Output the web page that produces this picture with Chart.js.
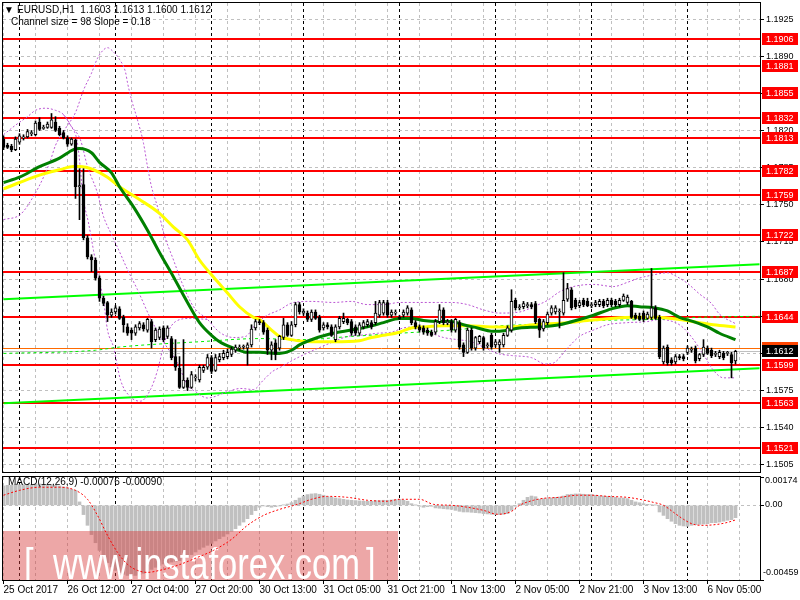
<!DOCTYPE html>
<html>
<head>
<meta charset="utf-8">
<script src="https://cdn.jsdelivr.net/npm/chart.js@4.4.0/dist/chart.umd.min.js"></script>
<style>
  html, body { margin: 0; padding: 0; background: #fff; }
  #wrap { position: relative; width: 800px; height: 600px; overflow: hidden; }
  canvas { position: absolute; left: 0; }
  #main { top: 0; }
  #macd { top: 474px; }
</style>
</head>
<body>
<div id="wrap">
  <canvas id="main" width="800" height="474"></canvas>
  <canvas id="macd" width="800" height="126"></canvas>
</div>
<script>
// ======== data (EURUSD H1, 25 Oct 20:00 .. 6 Nov 12:00) ========
const opens = [
  1.1812,1.1806,1.1805,1.1802,1.1809,1.1813,1.1814,1.1817,1.1816,1.1828,
  1.1822,1.1823,1.1823,1.1828,1.1822,1.1818,1.1813,1.1807,1.1811,1.1767,
  1.1769,1.1719,1.1701,1.1698,1.1681,1.1662,1.1658,1.1646,1.1649,1.1652,
  1.1644,1.1635,1.1632,1.1629,1.1634,1.1637,1.1632,1.1640,1.1623,1.1625,
  1.1634,1.1626,1.1624,1.1607,1.1596,1.1578,1.1585,1.1578,1.1587,1.1585,
  1.1594,1.1597,1.1606,1.1594,1.1604,1.1606,1.1607,1.1609,1.1613,1.1615,
  1.1616,1.1615,1.1618,1.1634,1.1640,1.1639,1.1632,1.1613,1.1620,1.1615,
  1.1625,1.1637,1.1627,1.1637,1.1656,1.1648,1.1648,1.1642,1.1649,1.1644,
  1.1634,1.1637,1.1635,1.1623,1.1635,1.1640,1.1642,1.1640,1.1635,1.1629,
  1.1635,1.1637,1.1639,1.1639,1.1646,1.1648,1.1658,1.1646,1.1648,1.1644,
  1.1646,1.1648,1.1651,1.1639,1.1635,1.1634,1.1632,1.1630,1.1630,1.1640,
  1.1651,1.1639,1.1640,1.1632,1.1639,1.1618,1.1611,1.1632,1.1615,1.1621,
  1.1625,1.1617,1.1627,1.1618,1.1618,1.1618,1.1627,1.1632,1.1660,1.1653,
  1.1654,1.1655,1.1656,1.1657,1.1642,1.1633,1.1639,1.1648,1.1649,1.1649,
  1.1648,1.1661,1.1670,1.1660,1.1655,1.1660,1.1659,1.1655,1.1656,1.1656,
  1.1659,1.1656,1.1660,1.1659,1.1656,1.1660,1.1658,1.1659,1.1646,1.1645,
  1.1648,1.1643,1.1644,1.1653,1.1644,1.1602,1.1616,1.1604,1.1602,1.1607,
  1.1607,1.1611,1.1613,1.1615,1.1605,1.1609,1.1615,1.1613,1.1609,1.1607,
  1.1610,1.1610,1.1609,1.1603
];
const highs = [
  1.1815,1.1808,1.1807,1.1814,1.1817,1.1816,1.1821,1.1820,1.1829,1.1832,
  1.1825,1.1828,1.1836,1.1833,1.1824,1.1820,1.1815,1.1813,1.1812,1.1784,
  1.1784,1.1721,1.1703,1.1700,1.1683,1.1664,1.1659,1.1652,1.1655,1.1654,
  1.1646,1.1638,1.1634,1.1637,1.1640,1.1639,1.1643,1.1642,1.1634,1.1635,
  1.1636,1.1636,1.1626,1.1623,1.1607,1.1623,1.1587,1.1593,1.1590,1.1599,
  1.1599,1.1609,1.1608,1.1609,1.1610,1.1613,1.1614,1.1616,1.1618,1.1618,
  1.1618,1.1620,1.1637,1.1642,1.1642,1.1641,1.1634,1.1621,1.1623,1.1627,
  1.1643,1.1639,1.1640,1.1658,1.1658,1.1652,1.1650,1.1651,1.1651,1.1646,
  1.1639,1.1639,1.1637,1.1637,1.1645,1.1648,1.1643,1.1642,1.1637,1.1639,
  1.1641,1.1642,1.1641,1.1659,1.1660,1.1660,1.1660,1.1651,1.1651,1.1646,
  1.1651,1.1655,1.1653,1.1641,1.1637,1.1636,1.1634,1.1632,1.1642,1.1656,
  1.1653,1.1642,1.1642,1.1643,1.1641,1.1620,1.1634,1.1634,1.1626,1.1627,
  1.1626,1.1620,1.1629,1.1623,1.1623,1.1629,1.1636,1.1670,1.1662,1.1656,
  1.1659,1.1658,1.1658,1.1659,1.1643,1.1642,1.1649,1.1655,1.1655,1.1652,
  1.1686,1.1676,1.1672,1.1662,1.1660,1.1662,1.1662,1.1658,1.1660,1.1661,
  1.1661,1.1662,1.1662,1.1661,1.1662,1.1666,1.1665,1.1660,1.1648,1.1648,
  1.1650,1.1649,1.1690,1.1655,1.1646,1.1617,1.1618,1.1606,1.1609,1.1609,
  1.1609,1.1617,1.1616,1.1617,1.1610,1.1623,1.1617,1.1615,1.1612,1.1613,
  1.1612,1.1612,1.1611,1.1613
];
const lows = [
  1.1802,1.1803,1.1800,1.1801,1.1807,1.1811,1.1813,1.1815,1.1815,1.1820,
  1.1821,1.1822,1.1822,1.1819,1.1815,1.1812,1.1805,1.1806,1.1756,1.1736,
  1.1717,1.1699,1.1687,1.1679,1.1659,1.1655,1.1640,1.1644,1.1647,1.1642,
  1.1630,1.1627,1.1623,1.1627,1.1632,1.1631,1.1630,1.1615,1.1621,1.1623,
  1.1621,1.1624,1.1604,1.1594,1.1577,1.1577,1.1575,1.1577,1.1584,1.1583,
  1.1592,1.1595,1.1591,1.1593,1.1602,1.1604,1.1605,1.1607,1.1611,1.1613,
  1.1614,1.1599,1.1616,1.1632,1.1637,1.1628,1.1609,1.1604,1.1604,1.1613,
  1.1623,1.1626,1.1626,1.1635,1.1647,1.1646,1.1640,1.1640,1.1642,1.1630,
  1.1632,1.1633,1.1626,1.1621,1.1633,1.1638,1.1637,1.1627,1.1627,1.1627,
  1.1633,1.1635,1.1633,1.1637,1.1644,1.1646,1.1644,1.1644,1.1646,1.1642,
  1.1644,1.1646,1.1637,1.1633,1.1630,1.1628,1.1627,1.1626,1.1628,1.1638,
  1.1637,1.1637,1.1630,1.1630,1.1614,1.1607,1.1610,1.1613,1.1613,1.1619,
  1.1613,1.1615,1.1614,1.1616,1.1611,1.1616,1.1626,1.1630,1.1651,1.1651,
  1.1652,1.1653,1.1652,1.1638,1.1625,1.1631,1.1637,1.1646,1.1647,1.1634,
  1.1646,1.1659,1.1651,1.1652,1.1653,1.1654,1.1654,1.1653,1.1654,1.1654,
  1.1653,1.1654,1.1654,1.1654,1.1654,1.1659,1.1656,1.1643,1.1642,1.1641,
  1.1640,1.1642,1.1642,1.1642,1.1605,1.1600,1.1599,1.1599,1.1600,1.1604,
  1.1603,1.1609,1.1611,1.1601,1.1603,1.1607,1.1609,1.1606,1.1607,1.1605,
  1.1604,1.1608,1.1587,1.1600
];
const closes = [
  1.1804,1.1804,1.1802,1.1812,1.1815,1.1814,1.1819,1.1818,1.1827,1.1821,
  1.1823,1.1826,1.1830,1.1820,1.1816,1.1813,1.1807,1.1812,1.1767,1.1768,
  1.1719,1.1701,1.1698,1.1681,1.1662,1.1657,1.1646,1.1649,1.1653,1.1643,
  1.1637,1.1629,1.1629,1.1635,1.1638,1.1633,1.1642,1.1621,1.1632,1.1633,
  1.1623,1.1634,1.1606,1.1597,1.1578,1.1585,1.1578,1.1590,1.1588,1.1597,
  1.1597,1.1606,1.1593,1.1606,1.1607,1.1610,1.1611,1.1614,1.1616,1.1616,
  1.1617,1.1618,1.1633,1.1640,1.1639,1.1630,1.1613,1.1618,1.1609,1.1626,
  1.1637,1.1627,1.1637,1.1656,1.1649,1.1650,1.1642,1.1649,1.1643,1.1632,
  1.1637,1.1635,1.1627,1.1635,1.1643,1.1643,1.1639,1.1629,1.1629,1.1637,
  1.1639,1.1640,1.1635,1.1648,1.1658,1.1658,1.1646,1.1649,1.1649,1.1643,
  1.1649,1.1653,1.1639,1.1635,1.1632,1.1630,1.1629,1.1627,1.1640,1.1651,
  1.1639,1.1640,1.1632,1.1642,1.1616,1.1611,1.1632,1.1615,1.1625,1.1626,
  1.1615,1.1618,1.1616,1.1621,1.1621,1.1627,1.1634,1.1659,1.1653,1.1654,
  1.1657,1.1656,1.1654,1.1640,1.1632,1.1640,1.1647,1.1653,1.1653,1.1650,
  1.1660,1.1671,1.1653,1.1654,1.1658,1.1656,1.1655,1.1656,1.1658,1.1659,
  1.1655,1.1660,1.1656,1.1656,1.1660,1.1664,1.1663,1.1644,1.1643,1.1642,
  1.1642,1.1647,1.1653,1.1643,1.1607,1.1615,1.1601,1.1601,1.1607,1.1606,
  1.1605,1.1615,1.1614,1.1603,1.1609,1.1616,1.1610,1.1608,1.1610,1.1611,
  1.1606,1.1611,1.1601,1.1612
];

// moving averages / bands, sampled as [bar index, price]
const maGreen = [[0,1.1771],[4,1.1776],[9,1.1786],[14,1.1794],[17.5,1.1802],[19,1.1803],[22,1.1799],[24,1.1790],[27,1.1780],[29,1.1767],[32.5,1.1748],[36,1.1726],[39,1.1705],[42.5,1.1682],[46,1.1658],[49,1.1639],[52,1.1627],[54,1.1621],[57.5,1.1615],[61,1.1611],[64,1.1611],[69,1.1610],[72,1.1613],[74,1.1618],[78.5,1.1625],[82.5,1.1629],[87,1.1632],[91,1.1635],[95,1.1639],[99,1.1643],[102,1.1643],[105,1.1641],[108.5,1.1640],[112,1.1640],[115,1.1637],[118.5,1.1634],[122,1.1631],[124,1.1631],[129,1.1634],[134,1.1635],[139,1.1637],[144,1.1642],[147.5,1.1646],[152,1.1652],[156,1.1655],[159,1.1654],[162.5,1.1653],[166,1.1650],[169,1.1644],[172.5,1.1640],[176,1.1635],[179,1.1629],[183,1.1623]];
const maYellow = [[0,1.1765],[4,1.1771],[9,1.1778],[14,1.1783],[17.5,1.1786],[19,1.1786],[22.5,1.1783],[26,1.1776],[29,1.1767],[34,1.1755],[39,1.1742],[42.5,1.1729],[46,1.1717],[49,1.1698],[52.5,1.1682],[56,1.1667],[59,1.1654],[62.5,1.1644],[64,1.1642],[67,1.1632],[69,1.1626],[72,1.1623],[77,1.1621],[82.5,1.1621],[89,1.1622],[92,1.1625],[95,1.1627],[99,1.1630],[102,1.1634],[105,1.1635],[110,1.1636],[116,1.1636],[122,1.1635],[127,1.1635],[132.5,1.1637],[141,1.1639],[146,1.1641],[152,1.1643],[157.5,1.1644],[163.5,1.1644],[169,1.1642],[174,1.1639],[177.5,1.1637],[183,1.1635]];
const maLime = [[0,1.1610],[23,1.1613],[29,1.1616],[49,1.1621],[64,1.1624],[74,1.1623],[87,1.1626],[99,1.1629],[112,1.1632],[124,1.1636],[137,1.1638],[149,1.1641],[162,1.1642],[174,1.1644],[189,1.1645]];
const bandUpper = [[0,1.1736],[4.25,1.1741],[7.5,1.1758],[10,1.1776],[11.75,1.1792],[13,1.1806],[15.5,1.1822],[18,1.1837],[20,1.1858],[22,1.1874],[23.5,1.1888],[25,1.1896],[26,1.1898],[27.5,1.1894],[29,1.1887],[30.5,1.1875],[31,1.1865],[32,1.1849],[33.5,1.1830],[35,1.1808],[36,1.1786],[37,1.1767],[38.5,1.1748],[40,1.1724],[42.5,1.1698],[45,1.1673],[47.5,1.1654],[51,1.1642],[54,1.1630],[57.5,1.1625],[60.5,1.1626],[63,1.1637],[65.5,1.1645],[69,1.1651],[72.5,1.1658],[77,1.1659],[82.5,1.1658],[87,1.1659],[91,1.1656],[95,1.1656],[99,1.1658],[108.5,1.1658],[112,1.1658],[116,1.1656],[120,1.1651],[124,1.1648],[129,1.1649],[132.5,1.1654],[136,1.1660],[139,1.1668],[142.5,1.1673],[147.5,1.1675],[152.5,1.1673],[156,1.1677],[159,1.1681],[162.5,1.1684],[166,1.1686],[168.5,1.1682],[171,1.1676],[174,1.1666],[177,1.1657],[179,1.1647],[183,1.1638]];
const bandLower = [[0,1.1816],[3,1.1825],[6,1.1833],[8,1.1839],[10.5,1.1841],[13,1.1839],[15,1.1835],[16.75,1.1825],[19.25,1.1811],[21,1.1786],[23.5,1.1761],[25,1.1739],[26.75,1.1724],[28.5,1.1710],[31,1.1689],[33.5,1.1670],[36.75,1.1643],[40.5,1.1618],[43.5,1.1601],[46,1.1580],[48,1.1574],[51,1.1568],[56,1.1574],[59.25,1.1577],[62.5,1.1576],[65,1.1585],[67.25,1.1593],[69.25,1.1597],[72.5,1.1604],[77.5,1.1613],[82.5,1.1621],[86,1.1626],[89,1.1627],[93.5,1.1629],[97,1.1630],[100,1.1634],[103.5,1.1635],[107,1.1629],[110,1.1625],[113.5,1.1623],[117,1.1621],[120,1.1616],[123.5,1.1610],[127,1.1608],[132,1.1606],[135.5,1.1600],[137.5,1.1601],[141,1.1615],[144,1.1626],[147.5,1.1632],[151,1.1637],[156,1.1639],[161,1.1640],[164,1.1642],[168,1.1639],[170,1.1634],[172.5,1.1623],[175,1.1609],[177.5,1.1594],[180,1.1587],[183,1.1587]];
const bandInner = [[15,1.1835],[16.75,1.1825],[18.5,1.1808],[20,1.1755],[21.25,1.1733],[22.5,1.1707],[23.5,1.1686],[25,1.1660],[26,1.1632],[27.5,1.1616],[29.25,1.1585],[31.75,1.1569],[34.25,1.1565],[36.75,1.1576],[38.5,1.1594],[39.75,1.1613],[41,1.1629],[43,1.1640],[46.75,1.1643],[51,1.1642]];
const channelUpper = [[0,1.1661],[189,1.1694]];
const channelLower = [[0,1.1563],[189,1.1596]];

// horizontal levels and quotes
const levels = [1.1906,1.1881,1.1855,1.1832,1.1813,1.1782,1.1759,1.1722,1.1687,1.1644,1.1599,1.1563,1.1521];
const askPrice = 1.1615;
const bidPrice = 1.1612;

// MACD(12,26,9)
const macdHist = [
  0.00119,0.00123,0.00123,0.00127,0.00127,0.00127,0.00129,0.00129,0.00131,0.00131,
  0.00129,0.00127,0.00127,0.00123,0.00119,0.00113,0.00107,0.00098,0.00092,0.00021,
  -0.00057,-0.00123,-0.00180,-0.00230,-0.00277,-0.00318,-0.00353,-0.00379,-0.00400,-0.00414,
  -0.00424,-0.00431,-0.00433,-0.00431,-0.00426,-0.00418,-0.00406,-0.00394,-0.00381,-0.00369,
  -0.00361,-0.00353,-0.00349,-0.00344,-0.00340,-0.00332,-0.00318,-0.00303,-0.00287,-0.00271,
  -0.00258,-0.00246,-0.00234,-0.00219,-0.00205,-0.00191,-0.00176,-0.00160,-0.00144,-0.00123,
  -0.00103,-0.00082,-0.00057,-0.00033,-0.00012,-0.00004,-0.00008,-0.00012,-0.00008,-0.00004,
  0.00002,0.00008,0.00016,0.00031,0.00045,0.00057,0.00066,0.00070,0.00072,0.00068,
  0.00062,0.00053,0.00049,0.00045,0.00041,0.00037,0.00033,0.00031,0.00029,0.00027,
  0.00025,0.00025,0.00025,0.00029,0.00029,0.00031,0.00031,0.00033,0.00035,0.00037,
  0.00031,0.00025,0.00010,0.00001,-0.00006,-0.00012,-0.00008,-0.00006,-0.00016,-0.00018,
  -0.00021,-0.00023,-0.00025,-0.00031,-0.00037,-0.00041,-0.00041,-0.00043,-0.00045,-0.00047,
  -0.00051,-0.00053,-0.00055,-0.00057,-0.00057,-0.00055,-0.00051,-0.00031,-0.00006,0.00010,
  0.00031,0.00049,0.00057,0.00053,0.00037,0.00041,0.00041,0.00045,0.00049,0.00051,
  0.00057,0.00066,0.00068,0.00070,0.00070,0.00068,0.00066,0.00066,0.00062,0.00057,
  0.00057,0.00055,0.00053,0.00049,0.00045,0.00045,0.00041,0.00031,0.00021,0.00016,
  0.00010,0.00006,0.00004,0.00001,-0.00041,-0.00062,-0.00082,-0.00098,-0.00113,-0.00123,
  -0.00127,-0.00129,-0.00123,-0.00119,-0.00117,-0.00115,-0.00113,-0.00107,-0.00107,-0.00103,
  -0.00098,-0.00092,-0.00088,-0.00076
];
const macdSignal = [[0,0.00062],[4,0.00092],[9,0.00111],[14,0.00111],[18,0.00092],[21,0.00037],[23.5,-0.00062],[26,-0.00185],[28.5,-0.00289],[31,-0.00363],[33.5,-0.00400],[36,-0.00412],[39,-0.00400],[43.5,-0.00369],[48.5,-0.00320],[52.5,-0.00277],[57,-0.00209],[61,-0.00123],[65,-0.00062],[69,-0.00025],[73.5,0.00006],[77,0.00037],[81,0.00055],[86,0.00049],[91,0.00031],[96,0.00025],[99,0.00037],[104,0.00037],[107.5,0.00006],[112,0.00000],[116,-0.00012],[120,-0.00031],[123.5,-0.00055],[127,-0.00037],[129,0.00000],[132.5,0.00031],[135,0.00043],[139,0.00049],[143.5,0.00062],[147,0.00062],[151,0.00055],[156,0.00049],[159,0.00037],[162.5,0.00018],[165,0.00000],[167.5,-0.00043],[170,-0.00086],[172.5,-0.00117],[175,-0.00123],[178.5,-0.00117],[181,-0.00105],[183,-0.00090]];

// axes
const priceTicks = [1.1925,1.1890,1.1855,1.1820,1.1785,1.1750,1.1715,1.1680,1.1645,1.1610,1.1575,1.1540,1.1505];
const macdTicks = [0.00174, 0, -0.00459];
const timeLabels = ["25 Oct 2017","26 Oct 12:00","27 Oct 04:00","27 Oct 20:00","30 Oct 13:00","31 Oct 05:00","31 Oct 21:00","1 Nov 13:00","2 Nov 05:00","2 Nov 21:00","3 Nov 13:00","6 Nov 05:00"];
const timeLabelIdx = [0,16,32,48,64,80,96,112,128,144,160,176];
const gridIdx = [0,8,16,24,32,40,48,56,64,72,80,88,96,104,112,120,128,136,144,152,160,168,176,184];
const daySeparators = [4,28,52,75,99,123,147,171];

// ======== common setup ========
const FONT = '"Liberation Sans", "DejaVu Sans", sans-serif';
Chart.defaults.font.family = FONT;
Chart.defaults.font.size = 10;
Chart.defaults.color = "#000";

const X_MIN = -0.125, X_MAX = 189.125;   // 4 px per bar
const Y_MIN = 1.14983, Y_MAX = 1.19401;
const idx = opens.map((_, i) => i);
const last = opens.length - 1;
const toXY = pts => pts.map(p => ({ x: p[0], y: p[1] }));
const xTicks = gridIdx.concat(daySeparators).sort((a, b) => a - b);
const xGridColor = c => (c.tick && daySeparators.includes(c.tick.value)) ? "#000" : "#C0C0C0";

function lineSet(points, color, width, dash, order) {
  return {
    type: "line", data: toXY(points), borderColor: color, borderWidth: width,
    borderDash: dash || [], pointRadius: 0, cubicInterpolationMode: "monotone",
    fill: false, order: order,
  };
}

// ======== main price pane ========
const levelLines = {
  id: "levelLines",
  beforeDatasetsDraw(chart) {
    const { ctx, chartArea: a, scales: { y } } = chart;
    ctx.save();
    ctx.beginPath(); ctx.rect(a.left, a.top, a.right - a.left, a.bottom - a.top); ctx.clip();
    const hline = (v, color, w) => {
      const py = Math.round(y.getPixelForValue(v)) + (w % 2 ? 0.5 : 0);
      ctx.strokeStyle = color; ctx.lineWidth = w;
      ctx.beginPath(); ctx.moveTo(a.left, py); ctx.lineTo(a.right, py); ctx.stroke();
    };
    hline(bidPrice, "#C0C0C0", 1);
    hline(askPrice, "#FF6A00", 1);
    levels.forEach(v => hline(v, "#FF0000", 2));
    ctx.restore();
  },
};

const mainOverlay = {
  id: "mainOverlay",
  afterDraw(chart) {
    const { ctx, chartArea: a, scales: { y } } = chart;
    ctx.save();
    ctx.strokeStyle = "#000"; ctx.lineWidth = 1;
    ctx.strokeRect(a.left - 0.5, a.top - 0.5, a.right - a.left + 1, a.bottom - a.top + 1);
    ctx.font = "9px " + FONT;
    ctx.textBaseline = "middle";
    const tag = (v, bg) => {
      const py = Math.round(y.getPixelForValue(v));
      ctx.fillStyle = bg; ctx.fillRect(a.right + 2, py - 6, 36, 12);
      ctx.fillStyle = "#fff"; ctx.fillText(v.toFixed(4), a.right + 6, py + 0.5);
    };
    levels.forEach(v => tag(v, "#FF0000"));
    tag(askPrice, "#FF4500");
    tag(bidPrice, "#000");
    // header
    ctx.fillStyle = "#000";
    ctx.font = "10px " + FONT;
    ctx.fillText("\u25BC", a.left + 1, 10);
    const q = [opens[last], highs[last], lows[last], closes[last]].map(v => v.toFixed(4)).join(" ");
    ctx.fillText("EURUSD,H1  " + q, a.left + 14, 10);
    ctx.fillText("Channel size = 98 Slope = 0.18", a.left + 8, 22);
    ctx.restore();
  },
};

new Chart(document.getElementById("main"), {
  type: "bar",
  data: {
    datasets: [
      {
        type: "bar", data: idx.map(i => ({ x: i, y: [opens[i], closes[i]] })),
        backgroundColor: idx.map(i => closes[i] >= opens[i] ? "#FFFFFF" : "#000000"),
        borderColor: "#000", borderWidth: 1, borderSkipped: false,
        barThickness: 3, maxBarThickness: 3, minBarLength: 1, grouped: false, order: 0,
      },
      {
        type: "bar", data: idx.map(i => ({ x: i, y: [lows[i], highs[i]] })),
        backgroundColor: "#000", borderWidth: 0,
        barThickness: 1, maxBarThickness: 1, grouped: false, order: 1,
      },
      lineSet(maGreen, "#008000", 3, null, 2),
      lineSet(maYellow, "#FFFF00", 3, null, 3),
      lineSet(maLime, "#00EE00", 1, [3, 3], 4),
      lineSet(bandUpper, "#BA55D3", 1, [2, 2], 5),
      lineSet(bandLower, "#BA55D3", 1, [2, 2], 6),
      lineSet(bandInner, "#BA55D3", 1, [2, 2], 7),
      lineSet(channelUpper, "#00FF00", 2, null, 8),
      lineSet(channelLower, "#00FF00", 2, null, 9),
    ],
  },
  options: {
    responsive: false, animation: false, events: [],
    layout: { padding: { left: 3, top: 3, right: 0, bottom: 2 } },
    plugins: { legend: { display: false }, tooltip: { enabled: false } },
    scales: {
      x: {
        type: "linear", min: X_MIN, max: X_MAX, offset: false,
        afterBuildTicks: s => { s.ticks = xTicks.map(v => ({ value: v })); },
        grid: { color: xGridColor, drawTicks: false, offset: false },
        border: { display: false, dash: [3, 3] },
        ticks: { display: false },
        afterFit: s => { s.height = 0; s.paddingLeft = 0; s.paddingRight = 0; },
      },
      y: {
        position: "right", min: Y_MIN, max: Y_MAX,
        afterBuildTicks: s => { s.ticks = priceTicks.map(v => ({ value: v })); },
        grid: { color: "#C0C0C0", tickColor: "#000", tickLength: 4, drawTicks: true },
        border: { display: false, dash: [3, 3] },
        ticks: { padding: 2, color: "#000", font: { size: 9 }, callback: v => Number(v).toFixed(4) },
        afterFit: s => { s.width = 40; s.paddingTop = 0; s.paddingBottom = 0; },
      },
    },
  },
  plugins: [levelLines, mainOverlay],
});

// ======== MACD pane ========
const watermark = {
  id: "watermark",
  afterDatasetDraw(chart, args) {
    if (args.index !== 0) return;
    const { ctx, chartArea: a } = chart;
    ctx.save();
    ctx.beginPath(); ctx.rect(a.left, a.top, a.right - a.left, a.bottom - a.top); ctx.clip();
    ctx.fillStyle = "rgba(215,60,60,0.45)";
    ctx.fillRect(a.left, a.bottom - 49, 395, 49);
    ctx.fillStyle = "#fff";
    ctx.font = "44px " + FONT;
    ctx.textBaseline = "alphabetic";
    const txt = "www.instaforex.com";
    const sx = 307 / ctx.measureText(txt).width;
    const put = (t, x) => {
      ctx.save(); ctx.translate(x, a.bottom - 1); ctx.scale(sx, 1);
      ctx.fillText(t, 0, 0); ctx.restore();
    };
    put("[", a.left + 21);
    put(txt, a.left + 50);
    put("]", a.left + 363);
    ctx.restore();
  },
};

const macdOverlay = {
  id: "macdOverlay",
  afterDraw(chart) {
    const { ctx, chartArea: a, scales: { y } } = chart;
    ctx.save();
    ctx.strokeStyle = "#000"; ctx.lineWidth = 1;
    ctx.strokeRect(a.left - 0.5, a.top - 0.5, a.right - a.left + 1, a.bottom - a.top + 1);
    ctx.font = "9px " + FONT;
    ctx.textBaseline = "middle";
    ctx.fillStyle = "#000";
    macdTicks.forEach(v => {
      const py = y.getPixelForValue(v);
      const shift = v === y.max ? 4 : (v === y.min ? -7 : -1);
      ctx.fillText(v === 0 ? "0.00" : v.toFixed(5), a.right + (v < 0 ? 3 : 5), py + shift);
    });
    ctx.font = "10px " + FONT;
    const sig = macdSignal[macdSignal.length - 1][1];
    ctx.fillText("MACD(12,26,9) " + macdHist[last].toFixed(5) + " " + sig.toFixed(5), a.left + 5, 8);
    ctx.restore();
  },
};

new Chart(document.getElementById("macd"), {
  type: "bar",
  data: {
    datasets: [
      {
        type: "bar", data: idx.map(i => ({ x: i, y: macdHist[i] })),
        backgroundColor: "#C0C0C0", borderWidth: 0,
        barThickness: 3, maxBarThickness: 3, grouped: false, order: 1,
      },
      lineSet(macdSignal, "#FF0000", 1, [2, 2], 0),
    ],
  },
  options: {
    responsive: false, animation: false, events: [],
    layout: { padding: { left: 3, top: 3, right: 0, bottom: 0 } },
    plugins: { legend: { display: false }, tooltip: { enabled: false } },
    scales: {
      x: {
        type: "linear", min: X_MIN, max: X_MAX, offset: false,
        afterBuildTicks: s => { s.ticks = xTicks.map(v => ({ value: v })); },
        grid: {
          color: xGridColor, offset: false, drawTicks: true, tickLength: 4,
          tickColor: c => (c.tick && timeLabelIdx.includes(c.tick.value)) ? "#000" : "rgba(0,0,0,0)",
        },
        border: { display: false, dash: [3, 3] },
        ticks: {
          align: "start", autoSkip: false, maxRotation: 0, minRotation: 0, padding: 0, color: "#000",
          callback: v => { const k = timeLabelIdx.indexOf(v); return k >= 0 ? timeLabels[k] : ""; },
        },
        afterFit: s => { s.height = 20; s.paddingLeft = 0; s.paddingRight = 0; },
      },
      y: {
        position: "right", min: -0.00459, max: 0.00174,
        afterBuildTicks: s => { s.ticks = macdTicks.map(v => ({ value: v })); },
        grid: {
          color: c => (c.tick && c.tick.value === 0) ? "#C0C0C0" : "rgba(0,0,0,0)",
          tickColor: "#000", tickLength: 4, drawTicks: true,
        },
        border: { display: false, dash: [3, 3] },
        ticks: { display: false },
        afterFit: s => { s.width = 40; s.paddingTop = 0; s.paddingBottom = 0; },
      },
    },
  },
  plugins: [watermark, macdOverlay],
});
</script>
</body>
</html>
